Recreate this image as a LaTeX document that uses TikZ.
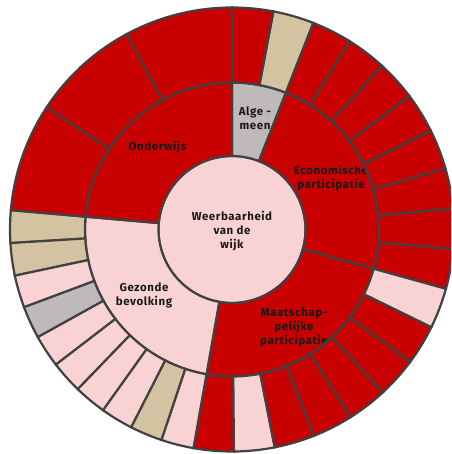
\documentclass[tikz,border=0pt]{standalone}
\usepackage{fontspec}
\setmainfont{Fira Sans}[LetterSpace=5]
\usepackage{tikz}

\definecolor{segred}{HTML}{C80000}
\definecolor{segpink}{HTML}{F9D3D3}
\definecolor{segsand}{HTML}{D3C3A0}
\definecolor{seggray}{HTML}{BEBABA}
\definecolor{segline}{HTML}{424040}

% colour, start angle, end angle, inner radius, outer radius
\newcommand{\ringpart}[5]{%
  \filldraw[segedge,fill=#1] (#2:#4) arc[start angle=#2,end angle=#3,radius=#4]
    -- (#3:#5) arc[start angle=#3,end angle=#2,radius=#5] -- cycle;}

\begin{document}
\begin{tikzpicture}[segedge/.style={draw=segline,line width=2.2pt},
    every node/.style={font=\bfseries\fontsize{11.5}{14}\selectfont,align=center,text=black!90}]
    \clip (-232pt,-224.5pt) rectangle (219pt,229.5pt);
    % middle
    \filldraw[segedge,fill=segpink] (0,0) circle[radius=73.5pt];
    % inner ring
    \ringpart{seggray}{68.5}{90}{73.5pt}{147pt}
    \ringpart{segred}{-15.5}{68.5}{73.5pt}{147pt}
    \ringpart{segred}{-100}{-15.5}{73.5pt}{147pt}
    \ringpart{segpink}{175}{260}{73.5pt}{147pt}
    \ringpart{segred}{90}{175}{73.5pt}{147pt}
    \node (wijk) at (0pt,-1.5pt) {Weerbaarheid\\van de\\wijk};
    \node (algemeen) at (23pt,111pt) {Alge -\\meen};
    \node (economie) at (99pt,51.5pt) {Economische\\participatie};
    \node (maatschappij) at (62pt,-97.5pt) {Maatschap-\\pelijke\\participatie};
    \node (gezondheid) at (-88pt,-65.5pt) {Gezonde\\bevolking};
    \node (onderwijs) at (-74.5pt,82.5pt) {Onderwijs};
    % outer ring
    \foreach \a/\b/\c in {68.5/79.25/segsand, 79.25/90/segred,
        -15.5/-5/segred, -5/5.5/segred, 5.5/16/segred, 16/26.5/segred,
        26.5/37/segred, 37/47.5/segred, 47.5/58/segred, 58/68.5/segred,
        -100/-89.5/segred, -89.5/-78.9/segpink, -78.9/-68.3/segred, -68.3/-57.75/segred,
        -57.75/-47.2/segred, -47.2/-36.6/segred, -36.6/-26.1/segred, -26.1/-15.5/segpink,
        175/183.5/segsand, 183.5/192/segsand, 192/200.5/segpink, 200.5/209/seggray,
        209/217.5/segpink, 217.5/226/segpink, 226/234.5/segpink, 234.5/243/segpink,
        243/251.5/segsand, 251.5/260/segpink,
        90/118.33/segred, 118.33/146.67/segred, 146.67/175/segred}
      {\ringpart{\c}{\a}{\b}{147pt}{222pt}}
\end{tikzpicture}
\end{document}
